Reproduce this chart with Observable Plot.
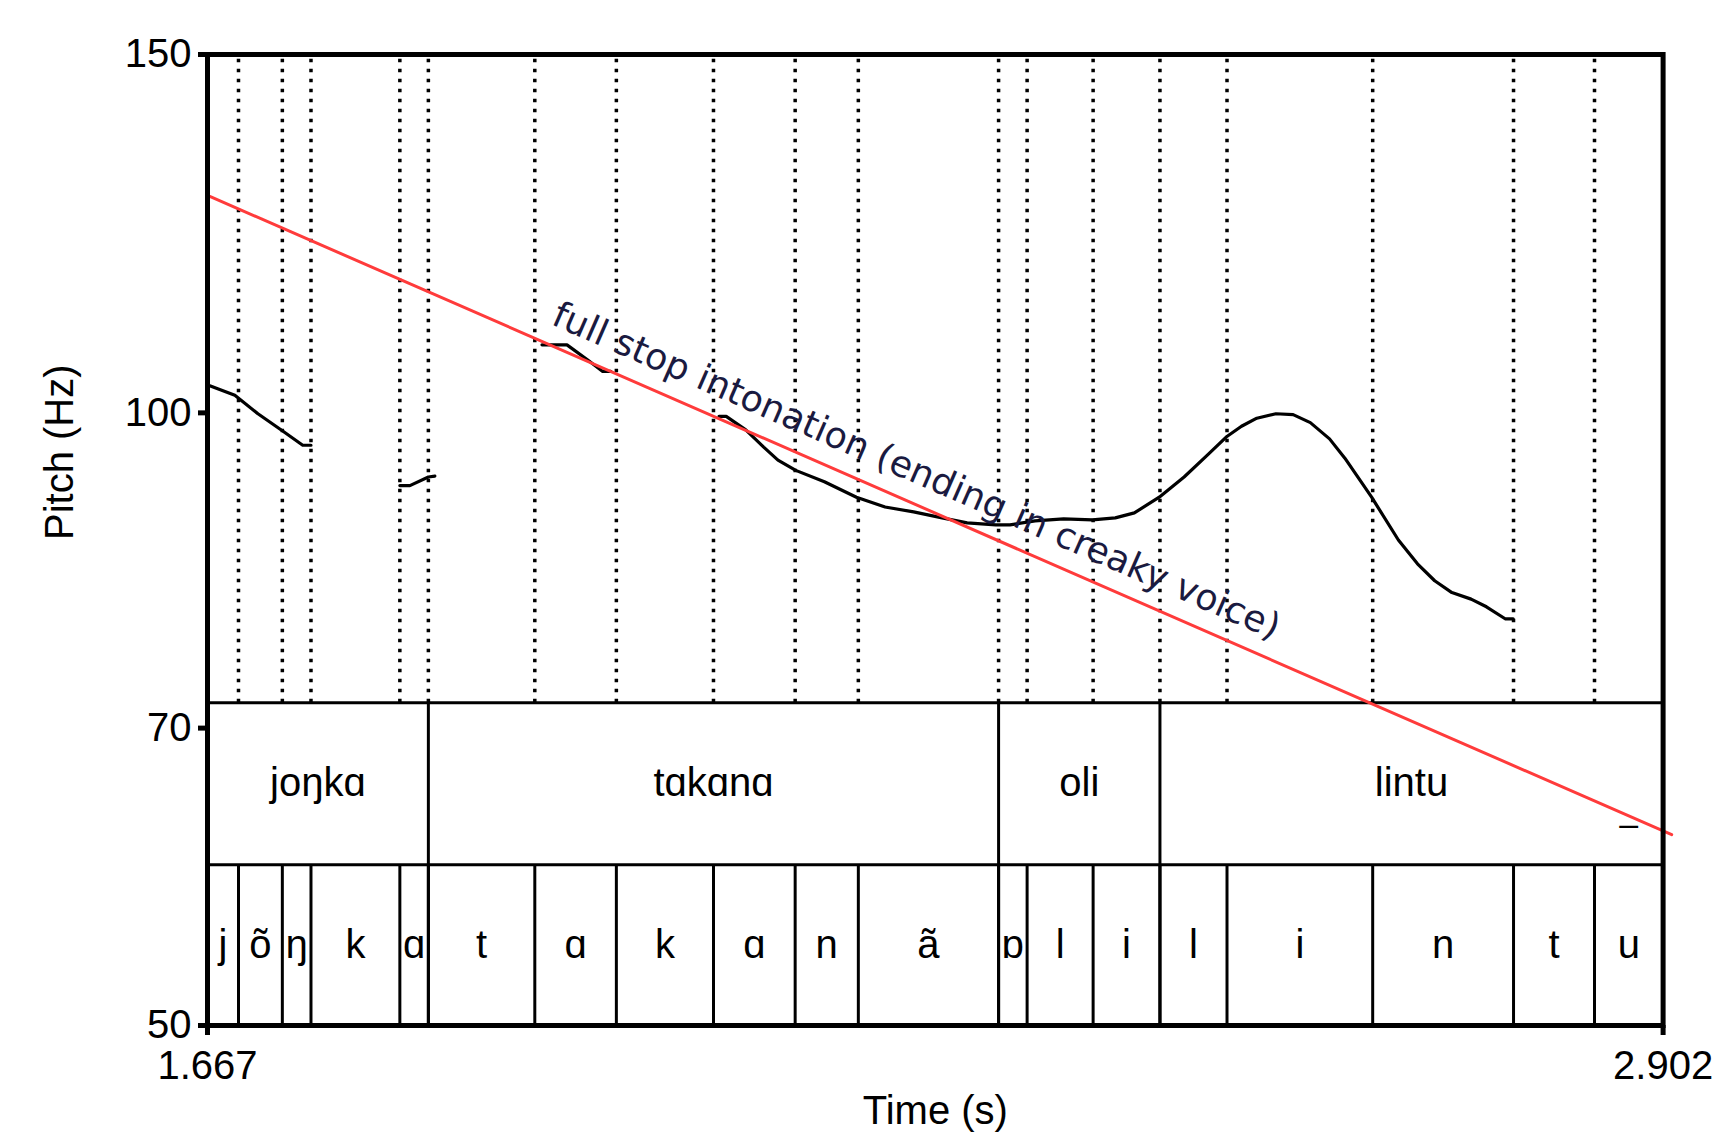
<!DOCTYPE html>
<html>
<head>
<meta charset="utf-8">
<script src="https://cdn.jsdelivr.net/npm/d3@7"></script>
<script src="https://cdn.jsdelivr.net/npm/@observablehq/plot@0.6"></script>
<style>
html, body { margin: 0; padding: 0; background: #ffffff; }
#chart svg { display: block; }
</style>
</head>
<body>
<div id="chart"></div>
<script>
// ---- axes ----
const xTicks = [1.667, 2.902];
const yTicks = [50, 70, 100, 150];
const xLabel = "Time (s)";
const yLabel = "Pitch (Hz)";

// ---- text grid: words ----
const wordLabels = ["joŋkɑ", "tɑkɑnɑ", "oli", "lintu"];
const wordBounds = [1.667, 1.8544, 2.3382, 2.4751, 2.902];

// ---- text grid: phones ----
const phoneLabels = ["j", "õ", "ŋ", "k", "ɑ", "t", "ɑ", "k", "ɑ", "n", "ã", "ɒ", "l", "i", "l", "i", "n", "t", "u"];
const phoneBounds = [1.667, 1.6933, 1.7305, 1.7548, 1.8302, 1.8544, 1.9447, 2.0139, 2.0963, 2.1656, 2.2192,
                     2.3382, 2.3624, 2.4184, 2.4751, 2.5320, 2.6556, 2.7751, 2.8438, 2.902];

// ---- pitch contour (voiced stretches) ----
const pitchSeg1Time = [1.6695, 1.6902, 1.7098, 1.7305, 1.7478, 1.7548];
const pitchSeg1Hz   = [103.1, 102.0, 99.9, 98.0, 96.4, 96.4];
const pitchSeg2Time = [1.8302, 1.8387, 1.8544, 1.8599];
const pitchSeg2Hz   = [92.1, 92.1, 93.0, 93.1];
const pitchSeg3Time = [1.9508, 1.9720, 1.9902, 2.0023, 2.0092];
const pitchSeg3Hz   = [108.0, 108.0, 106.1, 104.8, 104.8];
const pitchSeg4Time = [2.1010, 2.1071, 2.1237, 2.1389, 2.1510, 2.1661, 2.1904, 2.2176, 2.2419, 2.2661,
                       2.2903, 2.3115, 2.3358, 2.3479, 2.3691, 2.3934, 2.4177, 2.4372, 2.4534, 2.4745,
                       2.4956, 2.5151, 2.5313, 2.5443, 2.5573, 2.5735, 2.5881, 2.6027, 2.6190, 2.6320,
                       2.6547, 2.6774, 2.6936, 2.7082, 2.7228, 2.7391, 2.7521, 2.7683, 2.7748];
const pitchSeg4Hz   = [99.6, 99.6, 98.1, 96.2, 94.8, 93.7, 92.5, 90.9, 89.9, 89.4,
                       88.8, 88.3, 88.1, 88.1, 88.5, 88.7, 88.6, 88.8, 89.3, 90.9,
                       93.0, 95.3, 97.3, 98.5, 99.4, 99.9, 99.8, 98.9, 97.1, 95.0,
                       90.9, 86.6, 84.3, 82.7, 81.6, 81.0, 80.3, 79.2, 79.2];

// ---- declination (trend) line and its label ----
const trendTime = [1.667, 2.9093];
const trendHz   = [127.9, 62.05];
const trendText = "full stop intonation (ending in creaky voice)";
const trendTextTime = 1.9575;
const trendTextHz = 110.6;

// ---- extra mark in the word tier ----
const extraMarkText = "–";
const extraMarkTime = 2.8729;
const extraMarkHz = 62.76;

// ---- tier limits on the pitch (Hz) scale ----
const wordTierTop = 72.04;
const phoneTierTop = 59.98;

// ---- build tables ----
const words = wordLabels.map((w, i) => ({label: w, x1: wordBounds[i], x2: wordBounds[i + 1]}));
const phones = phoneLabels.map((p, i) => ({label: p, x1: phoneBounds[i], x2: phoneBounds[i + 1]}));
const innerPhoneBounds = phoneBounds.slice(1, -1);
const innerWordBounds = wordBounds.slice(1, -1);
const segs = [[pitchSeg1Time, pitchSeg1Hz], [pitchSeg2Time, pitchSeg2Hz], [pitchSeg3Time, pitchSeg3Hz], [pitchSeg4Time, pitchSeg4Hz]];
const pitch = segs.flatMap(([ts, hs], s) => ts.map((t, i) => ({t, f: hs[i], seg: s})));
const trend = trendTime.map((t, i) => ({t, f: trendHz[i]}));
const wordMid = Math.sqrt(wordTierTop * phoneTierTop);
const phoneMid = Math.sqrt(phoneTierTop * yTicks[0]);

const SANS = "'Liberation Sans', Arial, Helvetica, sans-serif";
const FS = 40;

const chart = Plot.plot({
  width: 1724,
  height: 1133,
  marginLeft: 207,
  marginRight: 61.4,
  marginTop: 54,
  marginBottom: 108,
  style: {fontFamily: SANS, color: "black", background: "white"},
  x: {domain: [xTicks[0], xTicks[1]]},
  y: {type: "log", domain: [yTicks[0], yTicks[yTicks.length - 1]]},
  marks: [
    // dotted phone boundaries in the pitch area
    Plot.ruleX(innerPhoneBounds, {x: d => d, y1: wordTierTop, y2: yTicks[yTicks.length - 1],
      stroke: "black", strokeWidth: 3.5, strokeDasharray: "3.5,6.5"}),
    // tier separators
    Plot.ruleY([wordTierTop, phoneTierTop], {stroke: "black", strokeWidth: 3}),
    Plot.ruleX(innerWordBounds, {x: d => d, y1: yTicks[0], y2: wordTierTop, stroke: "black", strokeWidth: 3}),
    Plot.ruleX(innerPhoneBounds, {x: d => d, y1: yTicks[0], y2: phoneTierTop, stroke: "black", strokeWidth: 3}),
    // tier labels
    Plot.text(words, {x: d => (d.x1 + d.x2) / 2, y: () => wordMid, text: "label",
      fontSize: FS, fontFamily: SANS, fill: "black", lineAnchor: "middle"}),
    Plot.text(phones, {x: d => (d.x1 + d.x2) / 2, y: () => phoneMid, text: "label",
      fontSize: FS, fontFamily: SANS, fill: "black", lineAnchor: "middle"}),
    Plot.text([{t: extraMarkTime, f: extraMarkHz, s: extraMarkText}], {x: "t", y: "f", text: "s",
      fontSize: 34, fontFamily: SANS, fill: "black", lineAnchor: "middle"}),
    // pitch contour
    Plot.line(pitch, {x: "t", y: "f", z: "seg", stroke: "black", strokeWidth: 3.2}),
    // trend line
    Plot.line(trend, {x: "t", y: "f", stroke: "#ff3b3b", strokeWidth: 3}),
    Plot.text([{t: trendTextTime, f: trendTextHz, s: trendText}], {x: "t", y: "f", text: "s",
      rotate: 23.6, textAnchor: "start", lineAnchor: "bottom",
      fontSize: 36.3, fontFamily: "'DejaVu Sans', sans-serif", fill: "#1a1a40"}),
    // frame and axes
    Plot.frame({stroke: "black", strokeWidth: 5}),
    Plot.axisY({ticks: yTicks, tickFormat: d => String(d), tickSize: 9, tickPadding: 7,
      stroke: "black", strokeWidth: 5, fontSize: FS, fontFamily: SANS, fill: "black", label: null}),
    Plot.axisX({ticks: xTicks, tickFormat: d => d.toFixed(3), tickSize: 10, tickPadding: 15,
      stroke: "black", strokeWidth: 5, fontSize: FS, fontFamily: SANS, fill: "black", label: null}),
    Plot.text([xLabel], {frameAnchor: "bottom", dy: 98, lineAnchor: "bottom",
      fontSize: FS, fontFamily: SANS, fill: "black"}),
    Plot.text([yLabel], {frameAnchor: "left", dx: -147, rotate: -90, lineAnchor: "middle",
      fontSize: FS, fontFamily: SANS, fill: "black"})
  ]
});
document.getElementById("chart").appendChild(chart);
</script>
</body>
</html>
